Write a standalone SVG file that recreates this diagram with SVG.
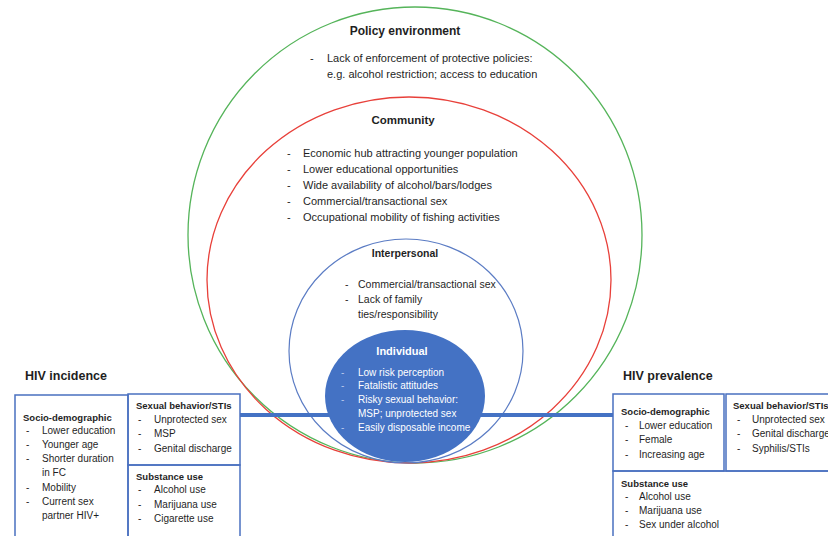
<svg xmlns="http://www.w3.org/2000/svg" width="828" height="536" viewBox="0 0 828 536">
<style>
text{font-family:"Liberation Sans",Arial,sans-serif;fill:#1f1f1f}
.h{font-weight:bold}
.t11{font-size:11px}
.t10{font-size:10px}
.t105{font-size:10.5px}
.hb{font-size:9.5px;font-weight:bold}
.big{font-size:12.5px;font-weight:bold}
.w{fill:#ffffff}
.wd{fill:#b9c9ec}
.box{fill:none;stroke:#4a70c0;stroke-width:1.5}
.mid{text-anchor:middle}
</style>
<rect width="828" height="536" fill="#ffffff"/>
<g id="policy">
<ellipse cx="415" cy="235" rx="227" ry="228" fill="none" stroke="#55b45a" stroke-width="1.3"/>
<text class="h mid" x="405" y="35" style="font-size:12px">Policy environment</text>
<text class="t11" x="310" y="62">-</text>
<text class="t11" x="327" y="62">Lack of enforcement of protective policies:</text>
<text class="t11" x="327" y="78">e.g. alcohol restriction; access to education</text>
</g>
<g id="community">
<ellipse cx="409" cy="280" rx="202" ry="183" fill="none" stroke="#e8403a" stroke-width="1.3"/>
<text class="h mid" x="403" y="124" style="font-size:11.5px">Community</text>
<text class="t11" x="287" y="157">-</text><text class="t11" x="303" y="157">Economic hub attracting younger population</text>
<text class="t11" x="287" y="173">-</text><text class="t11" x="303" y="173">Lower educational opportunities</text>
<text class="t11" x="287" y="189">-</text><text class="t11" x="303" y="189">Wide availability of alcohol/bars/lodges</text>
<text class="t11" x="287" y="205">-</text><text class="t11" x="303" y="205">Commercial/transactional sex</text>
<text class="t11" x="287" y="221">-</text><text class="t11" x="303" y="221">Occupational mobility of fishing activities</text>
</g>
<g id="interpersonal">
<ellipse cx="406" cy="351" rx="117" ry="112" fill="none" stroke="#5b7cc4" stroke-width="1.2"/>
<text class="h mid" x="405" y="257" style="font-size:10.5px">Interpersonal</text>
<text class="t105" x="345" y="288">-</text><text class="t105" x="358" y="288">Commercial/transactional sex</text>
<text class="t105" x="345" y="303">-</text><text class="t105" x="358" y="303">Lack of family</text>
<text class="t105" x="358" y="318">ties/responsibility</text>
</g>
<g id="connectors">
<line x1="240" y1="415" x2="613" y2="415" stroke="#4472c4" stroke-width="4"/>
</g>
<g id="individual">
<ellipse cx="405" cy="396" rx="80" ry="66" fill="#4472c4"/>
<text class="h mid w" x="402" y="355" style="font-size:11px">Individual</text>
<text class="t10 wd" x="341" y="376">-</text><text class="t10 w" x="358" y="376">Low risk perception</text>
<text class="t10 wd" x="341" y="389">-</text><text class="t10 w" x="358" y="389">Fatalistic attitudes</text>
<text class="t10 wd" x="341" y="403">-</text><text class="t10 w" x="358" y="403">Risky sexual behavior:</text>
<text class="t10 w" x="358" y="417">MSP; unprotected sex</text>
<text class="t10 wd" x="341" y="431">-</text><text class="t10 w" x="358" y="431">Easily disposable income</text>
</g>
<g id="hiv-incidence">
<text class="big" x="25" y="380">HIV incidence</text>
<rect class="box" x="15" y="395" width="113" height="150"/>
<rect class="box" x="128" y="394" width="112" height="71"/>
<rect class="box" x="128" y="465" width="112" height="80"/>
<text class="hb" x="23" y="421">Socio-demographic</text>
<text class="t10" x="26" y="434">-</text><text class="t10" x="42" y="434">Lower education</text>
<text class="t10" x="26" y="448">-</text><text class="t10" x="42" y="448">Younger age</text>
<text class="t10" x="26" y="462">-</text><text class="t10" x="42" y="462">Shorter duration</text>
<text class="t10" x="42" y="476">in FC</text>
<text class="t10" x="26" y="491">-</text><text class="t10" x="42" y="491">Mobility</text>
<text class="t10" x="26" y="505">-</text><text class="t10" x="42" y="505">Current sex</text>
<text class="t10" x="42" y="519">partner HIV+</text>
<text class="hb" x="136" y="409">Sexual behavior/STIs</text>
<text class="t10" x="138" y="423">-</text><text class="t10" x="154" y="423">Unprotected sex</text>
<text class="t10" x="138" y="437">-</text><text class="t10" x="154" y="437">MSP</text>
<text class="t10" x="138" y="452">-</text><text class="t10" x="154" y="452">Genital discharge</text>
<text class="hb" x="136" y="480">Substance use</text>
<text class="t10" x="138" y="493">-</text><text class="t10" x="154" y="493">Alcohol use</text>
<text class="t10" x="138" y="508">-</text><text class="t10" x="154" y="508">Marijuana use</text>
<text class="t10" x="138" y="522">-</text><text class="t10" x="154" y="522">Cigarette use</text>
</g>
<g id="hiv-prevalence">
<text class="big" x="623" y="380">HIV prevalence</text>
<rect class="box" x="613" y="394" width="111" height="77"/>
<rect class="box" x="726" y="394" width="110" height="77"/>
<rect class="box" x="613" y="471" width="230" height="80"/>
<text class="hb" x="621" y="415">Socio-demographic</text>
<text class="t10" x="625" y="429">-</text><text class="t10" x="639" y="429">Lower education</text>
<text class="t10" x="625" y="443">-</text><text class="t10" x="639" y="443">Female</text>
<text class="t10" x="625" y="458">-</text><text class="t10" x="639" y="458">Increasing age</text>
<text class="hb" x="733" y="409">Sexual behavior/STIs</text>
<text class="t10" x="737" y="423">-</text><text class="t10" x="752" y="423">Unprotected sex</text>
<text class="t10" x="737" y="437">-</text><text class="t10" x="752" y="437">Genital discharge</text>
<text class="t10" x="737" y="452">-</text><text class="t10" x="752" y="452">Syphilis/STIs</text>
<text class="hb" x="621" y="487">Substance use</text>
<text class="t10" x="625" y="500">-</text><text class="t10" x="639" y="500">Alcohol use</text>
<text class="t10" x="625" y="514">-</text><text class="t10" x="639" y="514">Marijuana use</text>
<text class="t10" x="625" y="528">-</text><text class="t10" x="639" y="528">Sex under alcohol</text>
</g>
</svg>
